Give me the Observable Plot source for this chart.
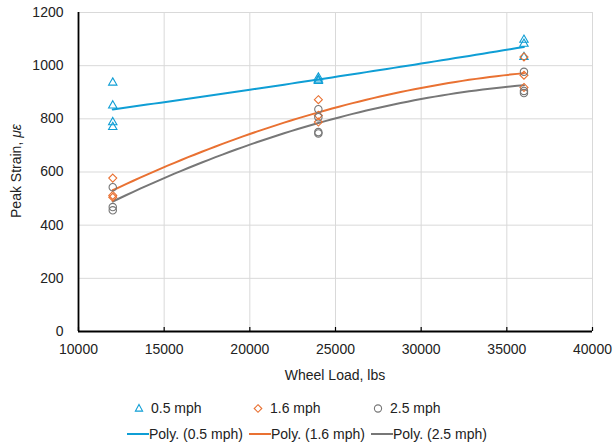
<!DOCTYPE html>
<html>
<head>
<meta charset="utf-8">
<script src="https://cdn.jsdelivr.net/npm/d3@7"></script>
<script src="https://cdn.jsdelivr.net/npm/@observablehq/plot@0.6"></script>
<style>
  body { margin: 0; background: #fff; font-family: "Liberation Sans", Arial, sans-serif; }
  #wrap { position: relative; width: 613px; height: 448px; }
  .leg { position: absolute; font-size: 14px; color: #222; display: flex; align-items: center; white-space: nowrap; }
</style>
</head>
<body>
<div id="wrap"><div id="chart"></div></div>
<script>
// ---- data ----
const seriesNames = ["0.5 mph", "1.6 mph", "2.5 mph"];
const seriesColors = ["#0F9ED5", "#E97132", "#777777"];
const seriesSymbols = ["triangle", "diamond2", "circle"];

const load05   = [12000, 12000, 12000, 12000, 24000, 24000, 24000, 36000, 36000, 36000];
const strain05 = [936, 850, 787, 769, 955, 947, 942, 1097, 1082, 1032];

const load16   = [12000, 12000, 12000, 24000, 24000, 24000, 36000, 36000, 36000];
const strain16 = [577, 512, 505, 872, 813, 788, 1033, 964, 918];

const load25   = [12000, 12000, 12000, 24000, 24000, 24000, 24000, 36000, 36000, 36000];
const strain25 = [543, 468, 456, 836, 806, 750, 745, 977, 905, 897];

const xTicks = [10000, 15000, 20000, 25000, 30000, 35000, 40000];
const yTicks = [0, 200, 400, 600, 800, 1000, 1200];

// ---- build tables ----
const loads = [load05, load16, load25];
const strains = [strain05, strain16, strain25];
const points = [];
seriesNames.forEach((s, i) => loads[i].forEach((x, j) => points.push({series: s, x, y: strains[i][j]})));

// least-squares quadratic (Excel "Poly." trendline, order 2)
function polyFit(xs, ys) {
  const t = xs.map(x => x / 10000);
  const S = k => d3.sum(t, v => v ** k);
  const T = k => d3.sum(t, (v, i) => ys[i] * v ** k);
  const A = [[S(0), S(1), S(2)], [S(1), S(2), S(3)], [S(2), S(3), S(4)]];
  const b = [T(0), T(1), T(2)];
  for (let c = 0; c < 3; c++) {
    for (let r = c + 1; r < 3; r++) {
      const f = A[r][c] / A[c][c];
      for (let k = c; k < 3; k++) A[r][k] -= f * A[c][k];
      b[r] -= f * b[c];
    }
  }
  const co = [0, 0, 0];
  for (let r = 2; r >= 0; r--) {
    let s = b[r];
    for (let k = r + 1; k < 3; k++) s -= A[r][k] * co[k];
    co[r] = s / A[r][r];
  }
  return x => { const u = x / 10000; return co[0] + co[1] * u + co[2] * u * u; };
}
const trend = [];
seriesNames.forEach((s, i) => {
  const f = polyFit(loads[i], strains[i]);
  const x0 = d3.min(loads[i]), x1 = d3.max(loads[i]);
  d3.range(0, 61).forEach(k => { const x = x0 + (x1 - x0) * k / 60; trend.push({series: s, x, y: f(x)}); });
});

const FONT = '"Liberation Sans", Arial, sans-serif';
const dotSize = {"triangle": 3.1, "diamond2": 3.6, "circle": 3.7};

const chart = Plot.plot({
  width: 613,
  height: 390,
  marginLeft: 78,
  marginRight: 21,
  marginTop: 12,
  marginBottom: 59,
  style: {fontFamily: FONT, fontSize: "14px", color: "#222"},
  x: {domain: [10000, 40000], ticks: xTicks, tickFormat: d => String(d), label: null},
  y: {domain: [0, 1200], ticks: yTicks, tickFormat: d => String(d), label: null},
  color: {domain: seriesNames, range: seriesColors},
  symbol: {domain: seriesNames, range: seriesSymbols},
  marks: [
    Plot.gridY(yTicks, {stroke: "#d9d9d9", strokeOpacity: 1, strokeWidth: 1}),
    Plot.gridX(xTicks, {stroke: "#d9d9d9", strokeOpacity: 1, strokeWidth: 1}),
    Plot.axisY(yTicks, {tickSize: 0, tickPadding: 15, fontSize: 14, tickFormat: d => String(d)}),
    Plot.axisX(xTicks, {tickSize: 0, tickPadding: 13, tickFormat: d => String(d), fontSize: 14}),
    Plot.ruleX(xTicks, {y1: 0, y2: 15, stroke: "#000", strokeWidth: 1.2}),
    Plot.ruleX([10000], {stroke: "#000", strokeWidth: 1.8}),
    Plot.ruleY([0], {stroke: "#000", strokeWidth: 1.8}),
    Plot.line(trend, {x: "x", y: "y", z: "series", stroke: "series", strokeWidth: 2, curve: "linear"}),
    ...seriesNames.map((s, i) =>
      Plot.dot(points.filter(p => p.series === s), {x: "x", y: "y", stroke: "series", symbol: "series", fill: "none", r: dotSize[seriesSymbols[i]], strokeWidth: 1.1}))
  ]
});

// axis titles
const svg = d3.select(chart);
svg.append("text").attr("x", 335).attr("y", 380).attr("text-anchor", "middle")
  .attr("font-size", 14).attr("font-family", FONT).attr("fill", "#222").text("Wheel Load, lbs");
const yl = svg.append("text").attr("transform", "translate(21,171) rotate(-90)").attr("text-anchor", "middle")
  .attr("font-size", 14).attr("font-family", FONT).attr("fill", "#222");
yl.append("tspan").text("Peak Strain, ");
yl.append("tspan").attr("font-style", "italic").text("με");

document.getElementById("chart").appendChild(chart);

// legend (HTML, below the svg)
const wrap = document.getElementById("wrap");
const symPaths = {
  triangle: '<path d="M0,-4L3.6,2.6L-3.6,2.6Z" />',
  diamond2: '<path d="M0,-3.8L3.8,0L0,3.8L-3.8,0Z" />',
  circle: '<circle r="3.6" />'
};
const row1X = [133, 252, 372];
seriesNames.forEach((s, i) => {
  const d = document.createElement("div");
  d.className = "leg";
  d.style.left = row1X[i] + "px";
  d.style.top = "400px";
  d.innerHTML = `<svg width="12" height="12" style="margin-right:6px"><g transform="translate(6,6.5)" fill="none" stroke="${seriesColors[i]}" stroke-width="1.1">${symPaths[seriesSymbols[i]]}</g></svg>${s}`;
  wrap.appendChild(d);
});
const row2X = [127, 249, 371];
seriesNames.forEach((s, i) => {
  const d = document.createElement("div");
  d.className = "leg";
  d.style.left = row2X[i] + "px";
  d.style.top = "426px";
  d.innerHTML = `<svg width="22" height="12"><line x1="0" x2="22" y1="6" y2="6" stroke="${seriesColors[i]}" stroke-width="2"/></svg>Poly. (${s})`;
  wrap.appendChild(d);
});
</script>
</body>
</html>
